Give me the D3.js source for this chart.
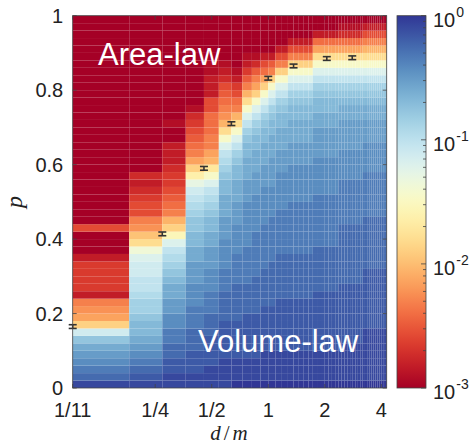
<!DOCTYPE html>
<html><head><meta charset="utf-8">
<script src="https://cdn.jsdelivr.net/npm/d3@7"></script>
<style>body{margin:0;background:#fff}svg{display:block}</style>
</head><body><svg id="chart" width="472" height="445"></svg>
<script>
// ---------- DATA ----------
// column edges: d/m = n/11
const dmDenom = 11;
const dmNumer = [1,2,3,4,5,6,7,8,9,10,11,12,13,14,15,16,17,18,19,20,21,22,23,24,25,26,27,28,29,30,31,32,33,34,35,36,37,38,39,40,41,42,43,44,45,46,47];
// row starts for p, each cell spans pStep
const pRows = [0,0.02,0.04,0.06,0.08,0.1,0.12,0.14,0.16,0.18,0.2,0.22,0.24,0.26,0.28,0.3,0.32,0.34,0.36,0.38,0.4,0.42,0.44,0.46,0.48,0.5,0.52,0.54,0.56,0.58,0.6,0.62,0.64,0.66,0.68,0.7,0.72,0.74,0.76,0.78,0.8,0.82,0.84,0.86,0.88,0.9,0.92,0.94,0.96,0.98];
const pStep = 0.02;
// level code per cell (bottom row first): index in levelChars -> log10 value from -3 to 0
const levelChars = "0123456789abcdefghijklmnopqrstuvwxyz";
const A1  = "ywvutsqmda 9824444200 0500000000 0000000000 0000000000";
const A2  = "yxwvutsrrq pponnmmlje c985543230 0000000000 0000000000";
const A3  = "yyxxwwvvuu ttssrqponl hdb8765443 2220010000 0000000000";
const A4  = "yyxxxwwwvv vuuutttssr rqqponmkgd a876543100 0000000000";
const A5  = "yyyxxxxwww vvvuuuttts srrqponlif ba88777552 2211000000";
const A6  = "yyyyxxxxxw wwwvvvuuuu tttsssrrqp onlieb9876 5321000000";
const A7  = "zyyyxxxxxw wwwwvvvvuu uutttsssrr qpnlieb875 4210000000";
const A8  = "zyyyxxxxxx wwwwvvvvvu uuuuutttss srrqpnlieb 8642100000";
const A9  = "zyyyxxxxxx wwwwwvvvvv vuuuuuttts ssrrqpnlid a863100000";
const A10 = "zyyyyxxxxx xwwwwwvvvv vvuuuuuttt sssrrqpnli da75200000";
const A11 = "zyyyyxxxxx xwwwwwwvvv vvvuuuuttt tsssrrqpnl id86200000";
const A12 = "zyyyyxxxxx xxwwwwwwvv vvvvuuuuut ttsssrrqpn lid8520000";
const A14 = "zyyyyxxxxx xxwwwwwwvv vvvvvuuuuu tttsssrrqp nlid852000";
const A19 = "zyyyyxxxxx xxxwwwwwwv vvvvvvuuuu uttttssrrq pnliea7200";
const A26 = "zyyyyyxxxx xxxxwwwwww wwvvvvvvuu uuttttssrq pnliea7310";
const A35 = "zyyyyyyyxx xxxxxxwwww wwwvvvvvvu uuutttssrq pnlieb8520";
const columnLevels = [A1,A2,A3,A4,A5,A6,A7,A8,A9,A10,A11,A12,A12,A14,A14,A14,A14,A14,
  A19,A19,A19,A19,A19,A19,A19, A26,A26,A26,A26,A26,A26,A26,A26,A26,
  A35,A35,A35,A35,A35,A35,A35,A35,A35,A35,A35,A35];
// transition points with error bars
const barDm  = [1/11, 3/11, 5/11, 7/11, 1, 15/11, 2.05, 2.8];
const barP   = [0.165, 0.414, 0.59, 0.71, 0.832, 0.865, 0.885, 0.887];
const barErr = [0.005, 0.005, 0.005, 0.005, 0.005, 0.005, 0.005, 0.005];
// ticks
const xTickValues = [1/11, 1/4, 1/2, 1, 2, 4];
const xTickLabels = ["1/11", "1/4", "1/2", "1", "2", "4"];
const yTickValues = [0, 0.2, 0.4, 0.6, 0.8, 1];
const yTickLabels = ["0", "0.2", "0.4", "0.6", "0.8", "1"];
const cbExponents = [0, -1, -2, -3];
const regionLabels = ["Area-law", "Volume-law"];

// ---------- LAYOUT ----------
const plot = {left: 72.7, right: 386.7, top: 15.7, bottom: 388};
const cb = {left: 397, right: 426, top: 15.7, bottom: 388};
const sans = "'Liberation Sans', Arial, Helvetica, sans-serif";
const serif = "'Liberation Serif', 'Times New Roman', serif";

const svg = d3.select("#chart");
const x = d3.scaleLog()
  .domain([dmNumer[0] / dmDenom, dmNumer[dmNumer.length - 1] / dmDenom])
  .range([plot.left, plot.right]);
const y = d3.scaleLinear().domain([0, 1]).range([plot.bottom, plot.top]);
const color = d3.scaleSequentialLog(d3.interpolateRdYlBu).domain([1e-3, 1]);
const nLev = levelChars.length - 1;

// ---------- CELLS ----------
const cells = [];
columnLevels.forEach((s, ci) => {
  const str = s.replace(/ /g, "");
  pRows.forEach((p0, r) => {
    const idx = levelChars.indexOf(str[r]);
    cells.push({
      x0: dmNumer[ci] / dmDenom, x1: dmNumer[ci + 1] / dmDenom,
      p0: p0, p1: p0 + pStep,
      v: Math.pow(10, -3 + 3 * idx / nLev)
    });
  });
});
svg.append("g").selectAll("rect").data(cells).join("rect")
  .attr("x", d => x(d.x0))
  .attr("width", d => x(d.x1) - x(d.x0))
  .attr("y", d => y(d.p1))
  .attr("height", d => y(d.p0) - y(d.p1))
  .attr("fill", d => color(d.v));

// ---------- REGION LABELS ----------
svg.append("text").attr("x", 98).attr("y", 65).text(regionLabels[0])
  .attr("font-family", sans).attr("font-size", 31).attr("fill", "#fff");
svg.append("text").attr("x", 198).attr("y", 352).text(regionLabels[1])
  .attr("font-family", sans).attr("font-size", 31).attr("fill", "#fff");

// ---------- ERROR BARS ----------
const bars = barDm.map((d, i) => ({d: d, p: barP[i], e: barErr[i]}));
const eb = svg.append("g").attr("stroke", "#333").attr("stroke-width", 1.6);
eb.selectAll(".v").data(bars).join("line")
  .attr("x1", d => x(d.d)).attr("x2", d => x(d.d))
  .attr("y1", d => y(d.p - d.e)).attr("y2", d => y(d.p + d.e));
eb.selectAll(".t").data(bars).join("line")
  .attr("x1", d => x(d.d) - 4).attr("x2", d => x(d.d) + 4)
  .attr("y1", d => y(d.p + d.e)).attr("y2", d => y(d.p + d.e));
eb.selectAll(".b").data(bars).join("line")
  .attr("x1", d => x(d.d) - 4).attr("x2", d => x(d.d) + 4)
  .attr("y1", d => y(d.p - d.e)).attr("y2", d => y(d.p - d.e));

// ---------- AXES ----------
const ax = svg.append("g");
ax.append("rect").attr("x", plot.left).attr("y", plot.top)
  .attr("width", plot.right - plot.left).attr("height", plot.bottom - plot.top)
  .attr("fill", "none").attr("stroke", "#444").attr("stroke-width", 0.8);
const tk = ax.append("g").attr("stroke", "#444").attr("stroke-width", 0.8);
yTickValues.forEach(v => {
  tk.append("line").attr("x1", plot.left).attr("x2", plot.left + 4).attr("y1", y(v)).attr("y2", y(v));
  tk.append("line").attr("x1", plot.right).attr("x2", plot.right - 4).attr("y1", y(v)).attr("y2", y(v));
});
xTickValues.forEach(v => {
  tk.append("line").attr("x1", x(v)).attr("x2", x(v)).attr("y1", plot.bottom).attr("y2", plot.bottom - 4);
  tk.append("line").attr("x1", x(v)).attr("x2", x(v)).attr("y1", plot.top).attr("y2", plot.top + 4);
});
ax.selectAll(".yl").data(yTickValues).join("text")
  .attr("x", plot.left - 9.5).attr("y", d => y(d)).attr("dy", "0.36em")
  .attr("text-anchor", "end").attr("font-family", sans).attr("font-size", 20).attr("fill", "#222")
  .text((d, i) => yTickLabels[i]);
ax.selectAll(".xl").data(xTickValues).join("text")
  .attr("x", d => x(d)).attr("y", plot.bottom + 29)
  .attr("text-anchor", "middle").attr("font-family", sans).attr("font-size", 20).attr("fill", "#222")
  .text((d, i) => xTickLabels[i]);
// axis titles
const xt = svg.append("text").attr("x", 229).attr("y", 440).attr("text-anchor", "middle")
  .attr("font-family", serif).attr("font-size", 21).attr("font-style", "italic").attr("fill", "#222");
xt.append("tspan").text("d");
xt.append("tspan").text("/").attr("font-style", "normal").attr("dx", 3);
xt.append("tspan").text("m").attr("dx", 3);
svg.append("text").attr("transform", "translate(22,202) rotate(-90)").attr("text-anchor", "middle")
  .attr("font-family", serif).attr("font-size", 24).attr("font-style", "italic").attr("fill", "#222").text("p");

// ---------- COLORBAR ----------
const cy = d3.scaleLog().domain([1e-3, 1]).range([cb.bottom, cb.top]);
const defs = svg.append("defs");
const grad = defs.append("linearGradient").attr("id", "cbg")
  .attr("x1", 0).attr("y1", 1).attr("x2", 0).attr("y2", 0);
const stops = d3.range(0, 41).map(i => i / 40);
grad.selectAll("stop").data(stops).join("stop")
  .attr("offset", d => d)
  .attr("stop-color", d => color(cy.invert(cb.bottom - d * (cb.bottom - cb.top))));
svg.append("rect").attr("x", cb.left).attr("y", cb.top)
  .attr("width", cb.right - cb.left).attr("height", cb.bottom - cb.top)
  .attr("fill", "url(#cbg)").attr("stroke", "#444").attr("stroke-width", 0.8);
const cbt = svg.append("g").attr("stroke", "#444").attr("stroke-width", 0.8);
cy.ticks().forEach(v => {
  const major = Math.abs(Math.log10(v) - Math.round(Math.log10(v))) < 1e-9;
  cbt.append("line").attr("x1", cb.right).attr("x2", cb.right - (major ? 5 : 3))
    .attr("y1", cy(v)).attr("y2", cy(v));
});
cbExponents.forEach(e => {
  const t = svg.append("text").attr("x", 433).attr("y", cy(Math.pow(10, e)) + 11)
    .attr("font-family", sans).attr("font-size", 20).attr("fill", "#222");
  t.append("tspan").text("10");
  t.append("tspan").text(String(e)).attr("font-size", 14).attr("dy", -10).attr("dx", 1);
});
</script></body></html>
